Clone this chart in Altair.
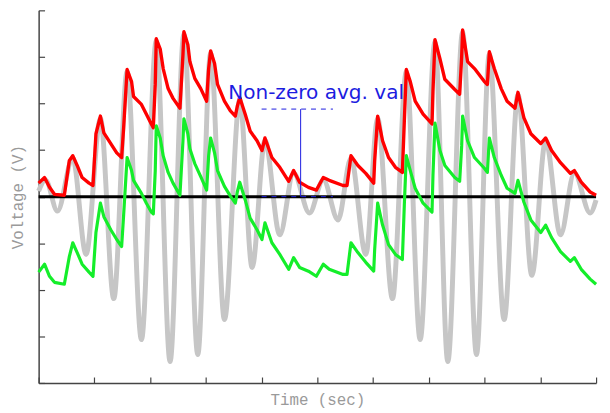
import altair as alt
import pandas as pd

# ---- data ----
# gray signal: extrema (time in s, voltage in V)
gray_t = [0.00, 0.124, 0.337, 0.612, 0.851, 1.108, 1.348, 1.587, 1.844, 2.110,
          2.358, 2.606, 2.855, 3.085, 3.333, 3.608, 3.830, 4.060, 4.326, 4.574,
          4.858, 5.106, 5.372, 5.603, 5.869, 6.082, 6.348, 6.596, 6.844, 7.110,
          7.340, 7.606, 7.855, 8.085, 8.351, 8.599, 8.848, 9.096, 9.362, 9.610,
          9.894, 10.0]
gray_v = [0.12, 0.36, -0.31, 0.83, -1.24, 1.68, -2.19, 2.68, -3.07, 3.34,
          -3.54, 3.49, -3.39, 3.08, -2.64, 2.08, -1.52, 1.21, -0.82, 0.51,
          -0.35, 0.36, -0.50, 0.83, -1.24, 1.68, -2.19, 2.68, -3.07, 3.32,
          -3.54, 3.53, -3.39, 3.06, -2.64, 2.19, -1.69, 1.21, -0.82, 0.51,
          -0.35, -0.07]

# envelopes (shared time samples)
env_t = [0.000, 0.106, 0.195, 0.284, 0.461, 0.550, 0.612, 0.691, 0.780, 0.904,
         0.975, 1.028, 1.108, 1.170, 1.294, 1.401, 1.489, 1.525, 1.587, 1.667,
         1.702, 1.844, 1.933, 2.021, 2.057, 2.092, 2.110, 2.181, 2.234, 2.323,
         2.411, 2.535, 2.589, 2.606, 2.677, 2.713, 2.801, 2.908, 3.014, 3.050,
         3.085, 3.156, 3.209, 3.333, 3.440, 3.528, 3.564, 3.608, 3.706, 3.794,
         3.918, 4.007, 4.060, 4.184, 4.326, 4.486, 4.574, 4.681, 4.840, 4.982,
         5.106, 5.213, 5.461, 5.532, 5.603, 5.727, 5.869, 6.011, 6.028, 6.082,
         6.170, 6.277, 6.401, 6.525, 6.560, 6.596, 6.667, 6.755, 6.897, 7.057,
         7.074, 7.110, 7.199, 7.287, 7.465, 7.553, 7.589, 7.606, 7.695, 7.819,
         7.996, 8.050, 8.085, 8.174, 8.298, 8.404, 8.546, 8.599, 8.706, 8.830,
         9.007, 9.096, 9.202, 9.362, 9.539, 9.610, 9.734, 9.894, 10.0]
red_v = [0.29, 0.41, 0.20, 0.05, 0.03, 0.77, 0.88, 0.67, 0.41, 0.29,
         0.24, 1.35, 1.73, 1.37, 1.14, 0.94, 0.84, 1.48, 2.73, 2.47,
         2.15, 1.98, 1.77, 1.56, 1.48, 2.41, 3.39, 3.17, 2.75, 2.32,
         2.11, 1.90, 3.05, 3.54, 3.26, 2.90, 2.54, 2.32, 2.05, 2.75,
         3.13, 2.86, 2.41, 2.05, 1.84, 1.73, 1.94, 2.13, 1.77, 1.41,
         1.20, 0.99, 1.26, 0.84, 0.63, 0.33, 0.56, 0.31, 0.20, 0.14,
         0.41, 0.35, 0.24, 0.24, 0.88, 0.67, 0.50, 0.29, 0.77, 1.73,
         1.20, 0.84, 0.63, 0.52, 1.62, 2.73, 2.47, 2.05, 1.77, 1.56,
         2.26, 3.37, 2.96, 2.52, 2.30, 2.20, 3.00, 3.58, 2.90, 2.75,
         2.47, 2.41, 3.11, 2.75, 2.32, 2.05, 1.90, 2.24, 1.69, 1.35,
         1.14, 1.26, 0.99, 0.73, 0.50, 0.56, 0.31, 0.10, 0.03]
green_v = [-1.62, -1.45, -1.71, -1.84, -1.88, -1.29, -0.99, -1.20, -1.45, -1.62,
           -1.71, -0.77, -0.14, -0.43, -0.71, -0.92, -1.07, -0.39, 0.84, 0.56,
           0.35, 0.07, -0.14, -0.33, -0.37, 0.56, 1.52, 1.26, 0.88, 0.52,
           0.29, 0.03, 1.20, 1.67, 1.35, 1.03, 0.71, 0.43, 0.14, 0.88,
           1.26, 0.94, 0.56, 0.22, 0.01, -0.14, 0.10, 0.31, -0.07, -0.46,
           -0.71, -0.92, -0.56, -0.99, -1.24, -1.56, -1.31, -1.52, -1.60, -1.71,
           -1.45, -1.56, -1.67, -1.67, -0.99, -1.20, -1.41, -1.60, -1.14, -0.14,
           -0.61, -1.03, -1.24, -1.35, -0.18, 0.88, 0.56, 0.18, -0.14, -0.33,
           0.46, 1.58, 0.99, 0.67, 0.41, 0.33, 1.09, 1.73, 1.20, 0.84,
           0.61, 0.52, 1.26, 0.84, 0.46, 0.18, 0.07, 0.35, -0.12, -0.50,
           -0.77, -0.61, -0.88, -1.18, -1.39, -1.31, -1.56, -1.77, -1.88]

x_ticks = [0, 1, 2, 3, 4, 5, 6, 7, 8, 9, 10]
y_ticks = [-4, -3, -2, -1, 0, 1, 2, 3, 4]

note_text = ["Non-zero avg. val"]
note_t = [3.40]
note_v = [2.09]
avg_level = [1.88]
avg_start = [4.0]
avg_end = [5.28]
marker_t = [4.70]
zero_level = [0.0]

# ---- tables ----
gray_df = pd.DataFrame({"t": gray_t, "v": gray_v})
env_df = pd.DataFrame({"t": env_t, "red": red_v, "green": green_v})
note_df = pd.DataFrame({"t": note_t, "v": note_v, "label": note_text})
avg_df = pd.DataFrame({"t": avg_start, "t2": avg_end, "v": avg_level, "z": zero_level})
mark_df = pd.DataFrame({"t": marker_t, "v": avg_level, "z": zero_level})
zero_df = pd.DataFrame({"v": zero_level})

xs = alt.Scale(domain=[0, 10], nice=False, zero=False)
ys = alt.Scale(domain=[-4, 4], nice=False, zero=False)
AX = "#444444"
BLUE = "#1c1ce0"
TITLE = dict(titleFont="Liberation Mono", titleFontSize=16, titleColor="#9a9a9a",
             titleFontWeight="normal")

main_x = alt.Axis(title="Time (sec)", labels=False, ticks=False, grid=False,
                  domainColor=AX, domainWidth=1.5, titlePadding=9, orient="bottom", **TITLE)
main_y = alt.Axis(title="Voltage (V)", labels=False, ticks=False, grid=False,
                  domainColor=AX, domainWidth=1.5, titlePadding=13, orient="left", **TITLE)
tick_x = alt.Axis(title=None, labels=False, domain=False, grid=False, values=x_ticks,
                  tickSize=6, tickColor=AX, tickWidth=1.2, offset=-6, orient="bottom")
tick_y = alt.Axis(title=None, labels=False, domain=False, grid=False, values=y_ticks,
                  tickSize=6, tickColor=AX, tickWidth=1.2, offset=-6, orient="left")

gray = alt.Chart(gray_df).mark_line(color="#c6c6c6", strokeWidth=5,
                                    interpolate="monotone").encode(
    x=alt.X("t:Q", scale=xs, axis=main_x),
    y=alt.Y("v:Q", scale=ys, axis=main_y),
)

zero = alt.Chart(zero_df).mark_rule(color="black", strokeWidth=3).encode(
    y=alt.Y("v:Q", scale=ys, axis=None)
)

avg_zero = alt.Chart(avg_df).mark_rule(color=BLUE, strokeWidth=1, strokeDash=[5, 5]).encode(
    x=alt.X("t:Q", scale=xs, axis=None), x2="t2:Q",
    y=alt.Y("z:Q", scale=ys, axis=None),
)

red = alt.Chart(env_df).mark_line(color="#ff0000", strokeWidth=3.4, strokeJoin="round").encode(
    x=alt.X("t:Q", scale=xs, axis=tick_x),
    y=alt.Y("red:Q", scale=ys, axis=tick_y),
)

green = alt.Chart(env_df).mark_line(color="#14ee2a", strokeWidth=3.2, strokeJoin="round").encode(
    x=alt.X("t:Q", scale=xs, axis=None),
    y=alt.Y("green:Q", scale=ys, axis=None),
)

avg_line = alt.Chart(avg_df).mark_rule(color=BLUE, strokeWidth=1, strokeDash=[5, 5]).encode(
    x=alt.X("t:Q", scale=xs, axis=None), x2="t2:Q",
    y=alt.Y("v:Q", scale=ys, axis=None),
)

marker = alt.Chart(mark_df).mark_rule(color=BLUE, strokeWidth=1).encode(
    x=alt.X("t:Q", scale=xs, axis=None),
    y=alt.Y("z:Q", scale=ys, axis=None), y2="v:Q",
)

note = alt.Chart(note_df).mark_text(align="left", baseline="alphabetic", font="DejaVu Sans",
                                    fontSize=20.3, color=BLUE).encode(
    x=alt.X("t:Q", scale=xs, axis=None),
    y=alt.Y("v:Q", scale=ys, axis=None),
    text="label:N",
)

chart = alt.layer(gray, zero, avg_zero, red, green, avg_line, marker, note).resolve_axis(
    x="independent", y="independent"
).properties(
    width=564, height=377,
    autosize=alt.AutoSizeParams(type="none"),
    padding={"left": 31, "top": 0, "right": 6, "bottom": 26},
).configure_view(stroke=None)

chart.save("out.html", embed_options={"renderer": "svg", "actions": False})
